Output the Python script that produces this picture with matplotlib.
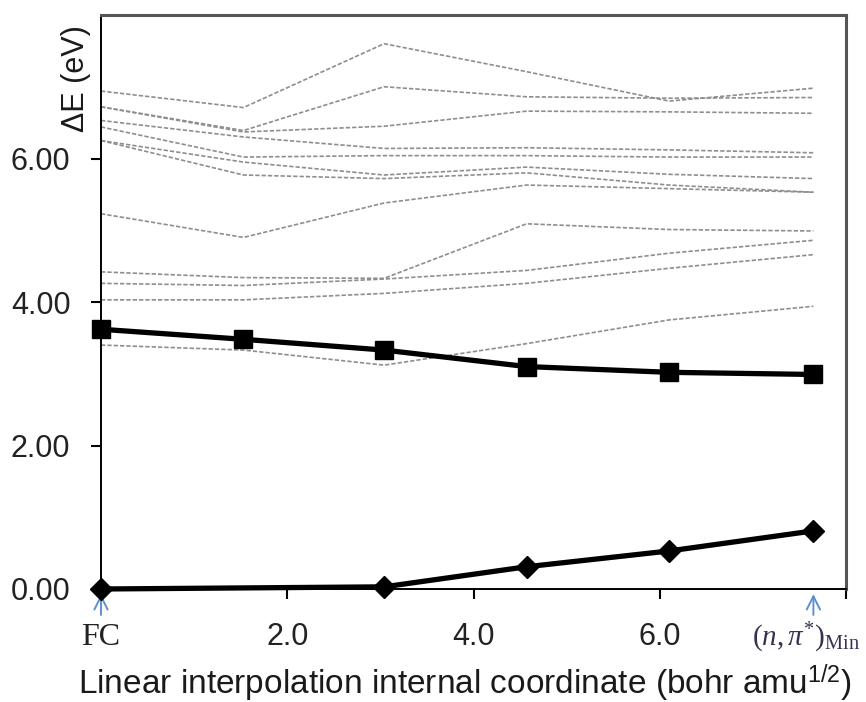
import numpy as np
import matplotlib
matplotlib.use("Agg")
import matplotlib.pyplot as plt
from matplotlib import transforms

plt.rcParams['font.family'] = ['Liberation Sans', 'DejaVu Sans']
plt.rcParams['mathtext.fontset'] = 'custom'
plt.rcParams['mathtext.rm'] = 'Liberation Serif'
plt.rcParams['mathtext.it'] = 'Liberation Serif:italic'
plt.rcParams['mathtext.sf'] = 'Liberation Sans'

# interpolation points (bohr amu^1/2)
coord = [0.0, 1.53, 3.04, 4.57, 6.10, 7.65]

# excited-state energies along the path (eV), grey dashed curves
upper_states = [
    [6.94, 6.71, 7.60, 7.21, 6.80, 6.98],
    [6.72, 6.39, 7.00, 6.86, 6.84, 6.85],
    [6.72, 6.37, 6.45, 6.66, 6.65, 6.63],
    [6.53, 6.30, 6.14, 6.15, 6.12, 6.08],
    [6.44, 6.02, 6.04, 6.04, 6.02, 6.02],
    [6.25, 5.95, 5.77, 5.88, 5.78, 5.72],
    [6.25, 5.77, 5.72, 5.80, 5.63, 5.53],
    [5.23, 4.90, 5.38, 5.63, 5.58, 5.53],
    [4.42, 4.34, 4.33, 5.09, 5.01, 4.99],
    [4.26, 4.23, 4.32, 4.44, 4.68, 4.86],
    [4.03, 4.03, 4.12, 4.26, 4.47, 4.66],
    [3.40, 3.33, 3.12, 3.42, 3.75, 3.94],
]

# (n,pi*) state, squares
npi_state = [3.62, 3.48, 3.33, 3.10, 3.02, 2.99]

# ground state, diamonds (no point drawn at the second coordinate)
gs_coord = [0.0, 3.04, 4.57, 6.10, 7.65]
gs_state = [0.00, 0.03, 0.31, 0.53, 0.81]

xticks = [2, 4, 6, 8]
xticklabels = ['2.0', '4.0', '6.0', '']
yticks = [0, 2, 4, 6]
yticklabels = ['0.00', '2.00', '4.00', '6.00']

fig = plt.figure(figsize=(8.66, 7.02), dpi=100)
ax = fig.add_axes([101/866, 113/702, 745/866, 574/702])

for s in upper_states:
    ax.plot(coord, s, color='#8e8e8e', lw=1.2, dashes=(2.6, 1.2), zorder=2)

ax.plot(coord, npi_state, color='black', lw=3.8, marker='s', ms=13,
        zorder=4, clip_on=False)
ax.plot(gs_coord, gs_state, color='black', lw=3.8, marker='D', ms=11,
        zorder=4, clip_on=False)

ax.set_xlim(0, 8)
ax.set_ylim(0, 8)
ax.set_xticks(xticks)
ax.set_xticklabels(xticklabels)
ax.set_yticks(yticks)
ax.set_yticklabels(yticklabels)
ax.tick_params(axis='both', direction='out', length=7, width=1.5,
               labelsize=22, labelcolor='#222222', color='black')
ax.tick_params(axis='y', pad=15)
ax.tick_params(axis='x', pad=17)

for side in ['left', 'bottom']:
    ax.spines[side].set_linewidth(1.4)
    ax.spines[side].set_color('black')
for side in ['top', 'right']:
    ax.spines[side].set_linewidth(2.2)
    ax.spines[side].set_color('#555555')

# end point markers below the axis
trans = transforms.blended_transform_factory(ax.transData, ax.transAxes)
for xv in [coord[0], coord[-1]]:
    ax.annotate('', xy=(xv, -0.004), xycoords=trans,
                xytext=(xv, -0.05), textcoords=trans,
                arrowprops=dict(arrowstyle='->', color='#5f8fcf', lw=1.4,
                                mutation_scale=24),
                annotation_clip=False)

ax.text(coord[0], -0.085, 'FC', transform=trans, ha='center', va='center',
        fontsize=23, family='Liberation Serif', color='#222222')
ax.text(7.57, -0.085, r'$(n,\pi^{*})_{\mathrm{Min}}$', transform=trans,
        ha='center', va='center', fontsize=21, color='#3a3050')

fig.text(465/866, 1 - 683/702,
         r'Linear interpolation internal coordinate (bohr amu$^{\mathsf{1/2}}$)',
         ha='center', va='center', fontsize=24, color='#1a1a1a')
fig.text(76/866, 1 - 79/702, '\u0394E (eV)', rotation=90, ha='center',
         va='center', fontsize=22, color='#1a1a1a')

fig.savefig('out.png', dpi=100)
